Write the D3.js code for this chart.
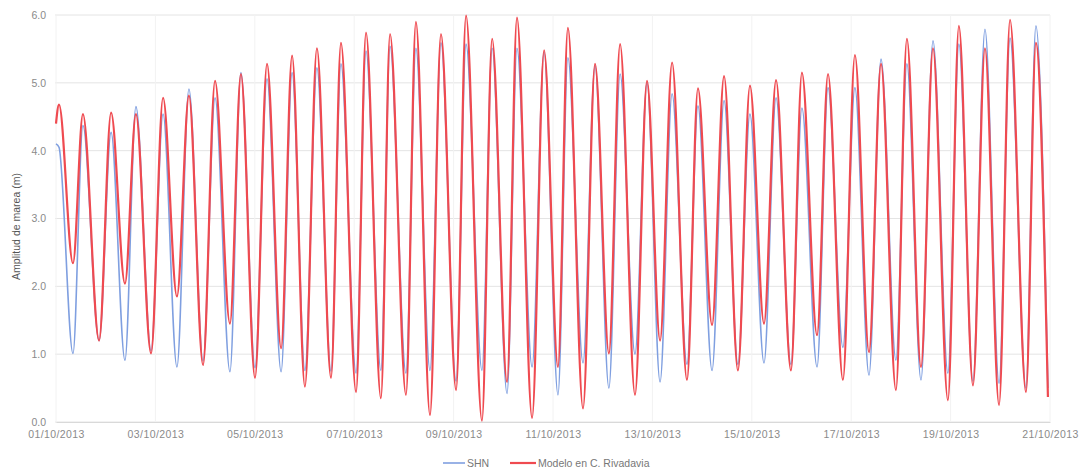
<!DOCTYPE html>
<html>
<head>
<meta charset="utf-8">
<script src="https://cdn.jsdelivr.net/npm/d3@7"></script>
<style>
  html, body { margin: 0; padding: 0; background: #fff; }
  svg { display: block; }
  text { font-family: "Liberation Sans", Arial, sans-serif; }
</style>
</head>
<body>
<svg id="chart" width="1082" height="472"></svg>
<script>
// ---- data ----
// hours after 01/10/2013 00:00 at which the tide turning points occur
const tideHours = [0, 1.45, 8.2, 13.0, 20.8, 26.6, 33.3, 38.6, 45.9, 51.7, 58.4, 64.2, 71.0, 76.8, 84.0, 89.3,
  96.1, 101.9, 108.7, 114.0, 120.2, 126.0, 132.8, 137.6, 144.9, 149.7, 156.9, 161.3, 169.0, 173.8, 180.6, 185.9,
  193.2, 198.0, 205.7, 210.6, 217.8, 222.6, 229.9, 235.7, 242.4, 247.2, 254.5, 260.3, 267.0, 272.4, 279.6, 285.4,
  291.7, 297.5, 304.7, 310.0, 316.8, 322.6, 329.3, 335.1, 341.9, 347.7, 354.9, 360.2, 367.5, 372.8, 380.0, 385.8,
  392.6, 398.4, 405.6, 410.9, 417.7, 423.5, 430.7, 436.0, 442.8, 448.6, 455.4, 460.7, 468.4, 473.2, 479.0];

const shnLevels = [4.10, 4.05, 1.01, 4.37, 1.20, 4.27, 0.91, 4.65, 1.05, 4.54, 0.81, 4.91, 0.90, 4.78, 0.74, 5.15,
  0.80, 5.06, 0.74, 5.15, 0.76, 5.22, 0.75, 5.28, 0.72, 5.47, 0.76, 5.54, 0.72, 5.51, 0.76, 5.59,
  0.60, 5.57, 0.76, 5.51, 0.42, 5.51, 0.81, 5.45, 0.40, 5.37, 0.87, 5.25, 0.50, 5.13, 1.00, 5.00,
  0.59, 4.84, 0.85, 4.66, 0.76, 4.74, 0.85, 4.54, 0.87, 4.78, 0.85, 4.63, 0.81, 4.93, 1.10, 4.93,
  0.69, 5.35, 0.91, 5.28, 0.62, 5.62, 0.72, 5.57, 0.60, 5.79, 0.57, 5.66, 0.50, 5.84, 0.50];

const modelLevels = [4.40, 4.68, 2.34, 4.54, 1.20, 4.56, 2.04, 4.54, 1.01, 4.78, 1.85, 4.81, 0.84, 5.03, 1.45, 5.13,
  0.65, 5.28, 1.09, 5.40, 0.52, 5.51, 0.65, 5.59, 0.44, 5.74, 0.35, 5.72, 0.40, 5.90, 0.10, 5.72,
  0.47, 5.99, 0.02, 5.65, 0.59, 5.96, 0.06, 5.48, 0.81, 5.81, 0.20, 5.28, 1.01, 5.57, 0.40, 5.03,
  1.20, 5.30, 0.62, 4.92, 1.43, 5.10, 0.76, 4.96, 1.45, 5.04, 0.76, 5.15, 1.28, 5.13, 0.62, 5.41,
  1.03, 5.28, 0.47, 5.65, 0.81, 5.51, 0.32, 5.84, 0.54, 5.51, 0.25, 5.93, 0.44, 5.59, 0.37];

const seriesNames = ["SHN", "Modelo en C. Rivadavia"];
const seriesColors = ["#7f9fe0", "#ef4a50"];
const yTicks = [0, 1, 2, 3, 4, 5, 6];
const xStart = new Date(2013, 9, 1);
const xEnd = new Date(2013, 9, 21);
const yTitle = "Amplitud de marea (m)";

// ---- drawing ----
const svg = d3.select("#chart");
const plotLeft = 56, plotRight = 1050, plotTop = 15, plotBottom = 422;

const x = d3.scaleTime().domain([xStart, xEnd]).range([plotLeft, plotRight]);
const y = d3.scaleLinear().domain([0, 6]).range([plotBottom, plotTop]);

const toDate = h => new Date(xStart.getTime() + h * 3600 * 1000);
const xTickDates = d3.timeDay.range(xStart, d3.timeDay.offset(xEnd, 1), 2);

// horizontal grid
svg.append("g")
  .selectAll("line").data(yTicks).join("line")
  .attr("x1", plotLeft - 1).attr("x2", plotRight)
  .attr("y1", d => y(d)).attr("y2", d => y(d))
  .attr("stroke", "#e4e4e4").attr("stroke-width", 1);

// vertical grid
svg.append("g")
  .selectAll("line").data(xTickDates).join("line")
  .attr("x1", d => x(d)).attr("x2", d => x(d))
  .attr("y1", plotTop).attr("y2", plotBottom)
  .attr("stroke", "#f2f2f2").attr("stroke-width", 1);

// y axis labels
const yAxis = d3.axisLeft(y).tickValues(yTicks).tickFormat(d3.format(".1f")).tickSize(0).tickPadding(10);
const gy = svg.append("g").attr("transform", `translate(${plotLeft},0)`).call(yAxis);
gy.select(".domain").remove();
gy.selectAll("text").attr("fill", "#8a8a8a").style("font-size", "10.5px").style("font-family", "Liberation Sans, Arial, sans-serif");

// x axis
const xAxis = d3.axisBottom(x).tickValues(xTickDates).tickFormat(d3.timeFormat("%d/%m/%Y")).tickSize(0).tickPadding(9);
const gx = svg.append("g").attr("transform", `translate(0,${plotBottom})`).call(xAxis);
gx.select(".domain").attr("stroke", "#d9d9d9");
gx.selectAll("text").attr("fill", "#8a8a8a").style("font-size", "10.5px").style("letter-spacing", "0.4px").style("font-family", "Liberation Sans, Arial, sans-serif");

// y title
svg.append("text")
  .attr("transform", `translate(20,${(plotTop + plotBottom) / 2 + 8}) rotate(-90)`)
  .attr("text-anchor", "middle")
  .attr("fill", "#555")
  .style("font-size", "10.5px")
  .text(yTitle);

// lines
const line = d3.line()
  .x(d => x(toDate(d[0])))
  .y(d => y(d[1]))
  .curve(d3.curveMonotoneX);

const shnData = tideHours.map((h, i) => [h, shnLevels[i]]);
const modelData = tideHours.map((h, i) => [h, modelLevels[i]]);

svg.append("path").datum(shnData)
  .attr("d", line).attr("fill", "none")
  .attr("stroke", seriesColors[0]).attr("stroke-width", 1.6);

svg.append("path").datum(modelData)
  .attr("d", line).attr("fill", "none")
  .attr("stroke", seriesColors[1]).attr("stroke-width", 2.2);

// legend
const legendY = 463;
const legendItems = [
  { name: seriesNames[0], color: seriesColors[0], x0: 443, len: 22, w: 1.6 },
  { name: seriesNames[1], color: seriesColors[1], x0: 510, len: 26, w: 2.2 }
];
const lg = svg.append("g");
legendItems.forEach(it => {
  lg.append("line")
    .attr("x1", it.x0).attr("x2", it.x0 + it.len)
    .attr("y1", legendY).attr("y2", legendY)
    .attr("stroke", it.color).attr("stroke-width", it.w);
  lg.append("text")
    .attr("x", it.x0 + it.len + 2).attr("y", legendY + 4)
    .attr("fill", "#777")
    .style("font-size", "10.5px")
    .text(it.name);
});
</script>
</body>
</html>
